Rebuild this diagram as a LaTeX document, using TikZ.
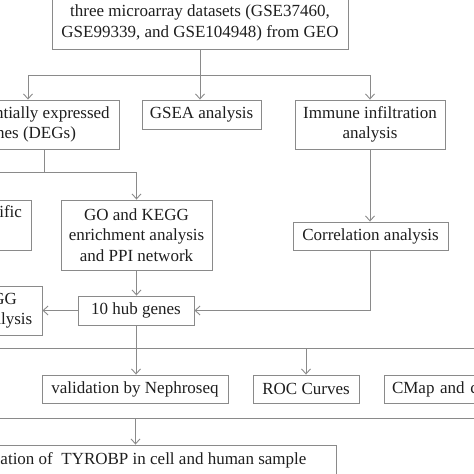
\documentclass[tikz,border=0pt]{standalone}
\usepackage{fontspec}
\setmainfont{Liberation Serif}
\usetikzlibrary{arrows.meta}
\definecolor{linec}{HTML}{8A8A8A}
\definecolor{textc}{HTML}{1E1E1E}
\begin{document}
\begin{tikzpicture}[x=1pt,y=-1pt,
  box/.style={draw=linec, line width=0.9pt, text=textc, align=center, inner sep=0pt,
    font=\fontsize{17}{20.5}\selectfont},
  arr/.style={draw=linec, line width=0.9pt, -{Straight Barb[length=5pt,width=9pt]}},
  ln/.style={draw=linec, line width=0.9pt}]
\useasboundingbox (0,0) rectangle (474,474);
% nodes
\node[box, minimum width=296, minimum height=52] (top) at (200,23)
  {three microarray datasets (GSE37460,\\GSE99339, and GSE104948) from GEO};
\node[box, minimum width=182, minimum height=49] (degs) at (28,124.5)
  {Differentially expressed\\genes (DEGs)};
\node[box, minimum width=119, minimum height=29] (gsea) at (201.5,114.5) {GSEA analysis};
\node[box, minimum width=150, minimum height=49] (imm) at (370,124.5)
  {Immune infiltration\\analysis};
\node[box, minimum width=131, minimum height=50, text width=113, align=right] (spec) at (-34.5,225)
  {ific\\\strut};
\node[box, minimum width=151, minimum height=70] (go) at (136.5,235)
  {GO and KEGG\\enrichment analysis\\and PPI network};
\node[box, minimum width=155, minimum height=28] (corr) at (370.5,236) {Correlation analysis};
\node[box, minimum width=116, minimum height=29] (hub) at (136,310.5) {10 hub genes};
\node[box, minimum width=155, minimum height=49] (kegg) at (-35.5,310.5)
  {GO and KEGG\\enrichment analysis};
\node[box, minimum width=186, minimum height=28] (valid) at (135,389) {validation by Nephroseq};
\node[box, minimum width=106, minimum height=28] (roc) at (306,389) {ROC Curves};
\node[box, minimum width=216, minimum height=28, text width=200, align=left] (cmap) at (492,389)
  {CMap and c};
\node[box, minimum width=401, minimum height=30] (final) at (135.5,460)
  {Validation of\ \ TYROBP in cell and human sample};
% connectors
\coordinate (j1) at (200,75);
\draw[arr] (top.south) -- (top.south |- gsea.north);
\draw[arr] (j1) -| (degs.north);
\draw[arr] (j1) -| (imm.north);
\coordinate (j2) at (44,172);
\draw[ln] (degs.south -| j2) -- (j2);
\draw[arr] (j2) -| (go.north);
\draw[arr] (j2) -| (spec.north);
\draw[arr] (imm.south) -- (imm.south |- corr.north);
\draw[arr] (go.south) -- (go.south |- hub.north);
\draw[arr] (corr.south) |- (hub.east);
\draw[arr] (hub.west) -- (kegg.east);
\coordinate (busA) at (-40,348);
\draw[ln] (busA) -- (cmap.north |- busA);
\draw[arr] (cmap.north |- busA) -- (cmap.north);
\draw[arr] (roc.north |- busA) -- (roc.north);
\draw[arr] (hub.south) -- (hub.south |- valid.north);
\coordinate (busC) at (-40,418);
\coordinate (busD) at (540,418);
\draw[ln] (busC) -- (busD);
\draw[arr] (final.north |- busC) -- (final.north);
\end{tikzpicture}
\end{document}
